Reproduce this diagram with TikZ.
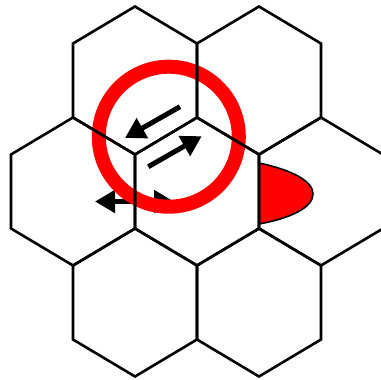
\documentclass[tikz,border=0pt]{standalone}
\usetikzlibrary{arrows.meta}
\tikzset{
  hexline/.style={line width=2.6pt, line join=miter},
  bigarrow/.style={line width=5pt, -{Triangle[length=20pt,width=22pt]}},
  ring/.style={draw=red, line width=14pt},
  blob/.style={fill=red, draw=black, line width=1.6pt}
}
\newcommand{\hexcell}[2]{%
  \draw[hexline] (#1,#2-74) -- (#1+62,#2-37) -- (#1+62,#2+37) -- (#1,#2+74)
    -- (#1-62,#2+37) -- (#1-62,#2-37) -- cycle;}
\begin{document}
\begin{tikzpicture}[x=1pt,y=-1pt]
  \useasboundingbox (0,0) rectangle (381,380);
  \fill[white] (0,0) rectangle (381,380);
  % arrows (under the ring)
  \draw[bigarrow] (180,106.7) -- (125,138);
  \draw[bigarrow] (148.3,166.7) -- (201.7,136.2);
  \draw[bigarrow] (135,201.5) -- (95,201.5);
  \draw[bigarrow] (135,201.5) -- (174,201.5);
  % red ring
  \draw[ring] (168.8,136.7) circle[radius=70];
  % red blob
  \draw[blob] (259,163) .. controls (292,170) and (313,181) .. (313,194)
    .. controls (313,207) and (292,218) .. (259,224) -- cycle;
  % hexagon grid
  \hexcell{135}{80.5}
  \hexcell{259}{80.5}
  \hexcell{73}{191.5}
  \hexcell{197}{191.5}
  \hexcell{321}{191.5}
  \hexcell{135}{302.5}
  \hexcell{259}{302.5}
\end{tikzpicture}
\end{document}
